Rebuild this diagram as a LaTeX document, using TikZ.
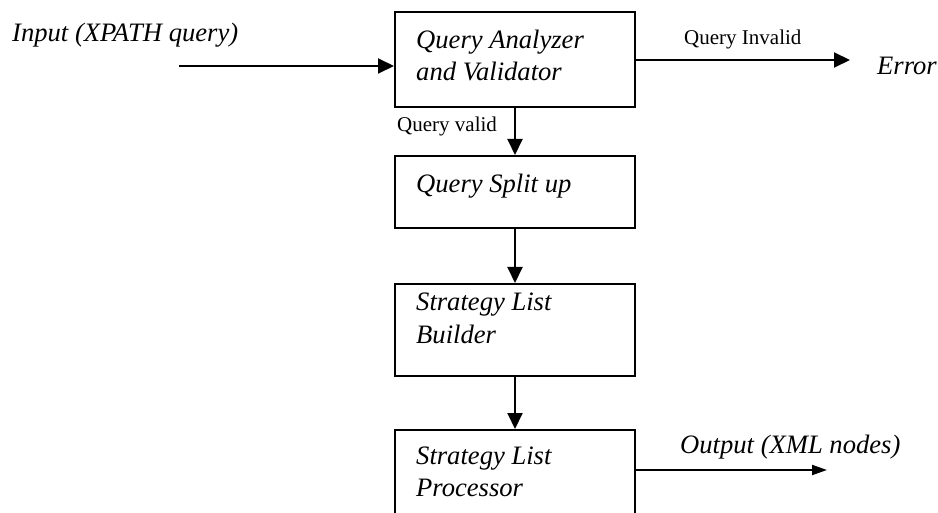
\documentclass[tikz,border=0pt]{standalone}
\usepackage{fontspec}
\setmainfont{Liberation Serif}
\usetikzlibrary{arrows.meta}
\begin{document}
\begin{tikzpicture}[x=1pt,y=-1pt,
  blk/.style={draw, line width=2pt, inner sep=0pt, minimum width=240pt},
  lbl/.style={font=\fontsize{26.6}{32}\selectfont\itshape, inner sep=0pt, anchor=base west},
  small/.style={font=\fontsize{21}{25}\selectfont, inner sep=0pt, anchor=base west},
  arr/.style={line width=2pt, -{Triangle[length=16pt,width=15pt]}},
  arrs/.style={line width=2pt, -{Triangle[length=15pt,width=10pt]}}]
\useasboundingbox (0,0) rectangle (938,513);
% boxes
\node[blk, minimum height=95pt] (q1) at (515,59.5) {};
\node[blk, minimum height=72pt] (q2) at (515,192) {};
\node[blk, minimum height=92pt] (q3) at (515,330) {};
\begin{scope}
\clip (0,0) rectangle (938,513);
\node[blk, minimum height=110pt] (q4) at (515,485) {};
\end{scope}
% box texts
\node[lbl] (t1a) at (416,49) {Query Analyzer};
\node[lbl] (t1b) at (416,81) {and Validator};
\node[lbl] (t2) at (416,193) {Query Split up};
\node[lbl] (t3a) at (416,311) {Strategy List};
\node[lbl] (t3b) at (416,344) {Builder};
\node[lbl] (t4a) at (416,464) {Strategy List};
\node[lbl] (t4b) at (416,496) {Processor};
% input
\node[lbl] (inp) at (12,42) {Input (XPATH query)};
\coordinate (ins) at (179,66);
\draw[arr] (ins) -- (ins -| q1.west);
% error
\node[small] (qi) at (684,45) {Query Invalid};
\node[lbl] (err) at (877,75) {Error};
\coordinate (errp) at (850,60);
\draw[arr] (q1.east |- errp) -- (errp);
% vertical flow
\node[small] (qv) at (397,132) {Query valid};
\draw[arr] (q1) -- (q2);
\draw[arr] (q2) -- (q3);
\draw[arr] (q3) -- (q4);
% output
\node[lbl] (out) at (680,453) {Output (XML nodes)};
\coordinate (outp) at (827,470);
\draw[arrs] (q4.east |- outp) -- (outp);
\end{tikzpicture}
\end{document}
